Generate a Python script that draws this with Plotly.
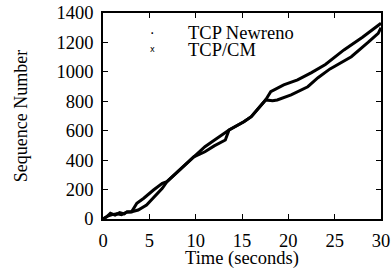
import plotly.graph_objects as go

# Data
newreno_t = [0, 0.4, 0.8, 1.3, 1.8, 2.3, 2.6, 3.1, 3.65, 4.4, 5.45, 6.4, 6.9, 8.3, 9.4, 9.8,
             11.0, 12.0, 13.0, 13.6, 15.2, 16.0, 17.55, 18.1, 19.5, 21.0, 22.5, 24.0, 26.0, 28.0, 30.0]
newreno_y = [0, 15, 39, 27, 43, 35, 50, 50, 107, 141, 197, 243, 254, 333, 401, 423,
             491, 535, 582, 605, 661, 695, 809, 865, 911, 945, 995, 1050, 1149, 1235, 1330]

cm_t = [0, 0.5, 1.0, 1.5, 2.0, 2.5, 3.0, 3.8, 4.7, 5.6, 6.4, 6.9, 8.3, 9.4, 9.8,
        11.0, 12.0, 13.2, 13.6, 15.2, 16.0, 17.55, 18.3, 18.8, 20.3, 22.1, 23.2, 24.5, 26.8, 28.6, 29.7, 30.0]
cm_y = [0, 20, 30, 35, 30, 45, 48, 61, 95, 152, 209, 254, 333, 401, 423,
        457, 497, 537, 605, 661, 695, 809, 803, 809, 843, 899, 960, 1020, 1103, 1200, 1262, 1300]

series_names = ["TCP Newreno", "TCP/CM"]
legend_symbols = ["·", "x"]

x_ticks = [0, 5, 10, 15, 20, 25, 30]
y_ticks = [0, 200, 400, 600, 800, 1000, 1200, 1400]

FONT = "Liberation Serif, Times New Roman, serif"
FS = 18.5

fig = go.Figure()
fig.add_trace(go.Scatter(x=newreno_t, y=newreno_y, mode="lines", name=series_names[0],
                         line=dict(color="black", width=3), showlegend=False))
fig.add_trace(go.Scatter(x=cm_t, y=cm_y, mode="lines", name=series_names[1],
                         line=dict(color="black", width=3), showlegend=False))

axis_common = dict(
    showgrid=False, zeroline=False, showline=True, linecolor="black", linewidth=1.5,
    mirror="ticks", ticks="inside", ticklen=5, tickwidth=1, tickcolor="black",
    tickfont=dict(family=FONT, size=FS, color="black"), automargin=False,
    ticklabeloverflow="allow",
)
fig.update_xaxes(range=[0, 30], tickvals=x_ticks, ticktext=[str(v) for v in x_ticks],
                 ticklabelstandoff=4,
                 title=dict(text="Time (seconds)", font=dict(family=FONT, size=FS, color="black"), standoff=2),
                 **axis_common)
fig.update_yaxes(range=[0, 1400], tickvals=y_ticks, ticktext=[str(v) for v in y_ticks],
                 ticklabelstandoff=4,
                 title=dict(text="Sequence Number", font=dict(family=FONT, size=18, color="black"), standoff=24),
                 **axis_common)

# legend drawn as text annotations (compact gnuplot-style key)
for i, (name, sym) in enumerate(zip(series_names, legend_symbols)):
    fig.add_annotation(xref="paper", yref="paper", x=0.3, y=0.905 - i * 0.085,
                       text=name, showarrow=False, xanchor="left", yanchor="middle",
                       font=dict(family=FONT, size=FS, color="black"))
    fig.add_annotation(xref="paper", yref="paper", x=0.177, y=0.905 - i * 0.085 + (0.005 if i else 0),
                       text=sym, showarrow=False, xanchor="center", yanchor="middle",
                       font=dict(family="DejaVu Sans", size=8 if i else 14, color="black"))

fig.update_layout(
    width=391, height=269,
    margin=dict(l=103, r=10, t=13, b=50),
    paper_bgcolor="white", plot_bgcolor="white",
    font=dict(family=FONT, color="black"),
)

# remove the browser's default 8px page margin so the figure fills the window
fig.write_html("out.html", config={"displayModeBar": False},
               post_script="document.body.style.margin='0';")
